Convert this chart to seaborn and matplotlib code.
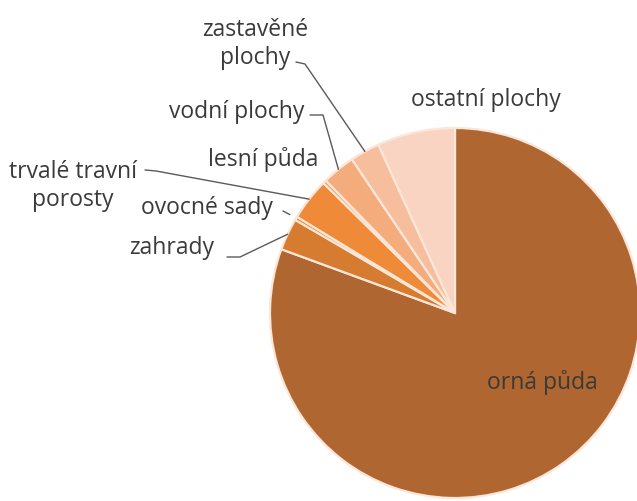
import matplotlib
matplotlib.use("Agg")
import numpy as np
import matplotlib.pyplot as plt
import seaborn as sns

# land use shares (%), in drawing order (clockwise from top)
categories = ["orná půda", "zahrady", "ovocné sady", "trvalé travní porosty",
              "lesní půda", "vodní plochy", "zastavěné plochy", "ostatní plochy"]
shares = [80.6, 2.8, 0.3, 3.7, 0.3, 2.9, 2.6, 6.8]
colors = ["#AF6630", "#D67C30", "#E2832F", "#EE8A38",
          "#F29A58", "#F4AC7C", "#F7BE9E", "#F9D4C2"]

sns.set_theme(style="white")
plt.rcParams['font.family'] = ['Open Sans', 'DejaVu Sans']

W, H = 637, 502
fig = plt.figure(figsize=(W / 100, H / 100), dpi=100)
ax = fig.add_axes([0, 0, 1, 1])

cx, cy, r = 455, 502 - 314, 185
wedges, _ = ax.pie(shares, colors=colors, startangle=90, counterclock=False,
                   center=(cx, cy), radius=r,
                   wedgeprops=dict(edgecolor="#FCE6D8", linewidth=1.6))
ax.set_xlim(0, W)
ax.set_ylim(0, H)
ax.set_aspect("auto")
ax.axis("off")

txt = dict(fontsize=16.5, color="#3A3A3A", ha="center", va="center")
line = dict(color="#5A5A5A", lw=1.0)


def edge_point(i, k=1.0):
    w = wedges[i]
    a = np.deg2rad((w.theta1 + w.theta2) / 2)
    return cx + k * r * np.cos(a), cy + k * r * np.sin(a)


# label text, label centre (image px), start of leader (image px)
labels = {
    6: ("zastavěné\nplochy", (255, 44), [(296, 63), (305, 65)]),
    5: ("vodní plochy", (237, 112), [(310, 116), (323, 116)]),
    4: ("lesní půda", (263, 160), None),
    3: ("trvalé travní\nporosty", (73, 186), [(145, 171), (156, 172)]),
    2: ("ovocné sady", (207, 208), [(283, 212)]),
    1: ("zahrady", (172, 248), [(227, 258), (240, 258)]),
}

for i, (text, (lx, ly), pts) in labels.items():
    ax.text(lx, H - ly, text, linespacing=1.25, **txt)
    if pts is None:
        continue
    xs = [p[0] for p in pts]
    ys = [H - p[1] for p in pts]
    if i == 2:
        ex, ey = edge_point(i, 1.04)
    else:
        ex, ey = edge_point(i, 1.0)
    ax.plot(xs + [ex], ys + [ey], **line)

ax.text(486, H - 100, "ostatní plochy", **txt)
ax.text(542, H - 383, "orná půda", **txt)

fig.savefig("out.png", dpi=100)
